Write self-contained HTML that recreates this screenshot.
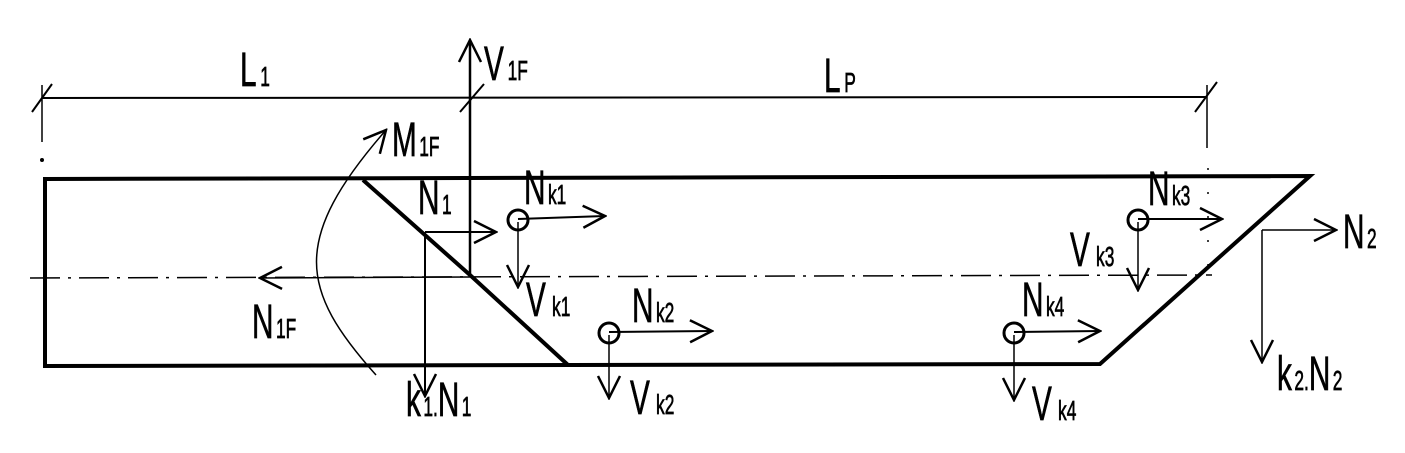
<!DOCTYPE html>
<html><head><style>html,body{margin:0;padding:0;background:#fff}svg{display:block}
text{font-family:"Liberation Sans",sans-serif;fill:#000;stroke:#000;stroke-width:0.7}
.b{font-size:48px}.s{font-size:28px}</style></head><body>
<svg width="1405" height="453" viewBox="0 0 1405 453" xmlns="http://www.w3.org/2000/svg">
<defs>
<marker id="a" viewBox="0 0 26 26" refX="24" refY="13" markerWidth="26" markerHeight="26" markerUnits="userSpaceOnUse" orient="auto"><path d="M2 2 L24 13 L2 24" fill="none" stroke="#000" stroke-width="2.5"/></marker>
</defs>
<g fill="none" stroke="#000">
<path d="M42 98 L1207 97" stroke-width="2"/>
<path d="M32 112 L52 84 M460 112 L484 84 M1195 112 L1217 82" stroke-width="2"/>
<path d="M42 85 L42 142 M1207 85 L1207 148" stroke-width="1.5"/>
<path d="M1208 168 L1208 275" stroke-width="1.5" stroke-dasharray="2 22"/>
<circle cx="42" cy="160" r="1.5" fill="#000"/>
<path d="M45 179 L1310 176 L1100 364 L45 366 Z" stroke-width="4"/>
<path d="M363 180 L470 275 L568 365" stroke-width="4"/>
<path d="M30 278 L1212 275" stroke-width="1.5" stroke-dasharray="30 8 3 8"/>
<path d="M470 275 L470 40" stroke-width="2.5" marker-end="url(#a)"/>
<path d="M470 277 L260 278" stroke-width="1.5" marker-end="url(#a)"/>
<path d="M376 375 C300 290 290 240 386 130" stroke-width="1.5" marker-end="url(#a)"/>
<path d="M425 232 L496 232" stroke-width="2" marker-end="url(#a)"/>
<path d="M425 232 L425 396" stroke-width="2" marker-end="url(#a)"/>
<circle cx="518" cy="220" r="10" stroke-width="3"/>
<path d="M518 219 L605 216" stroke-width="2" marker-end="url(#a)"/>
<path d="M518 222 L518 287" stroke-width="1.5" marker-end="url(#a)"/>
<circle cx="609" cy="333" r="10" stroke-width="3"/>
<path d="M609 332 L712 331" stroke-width="2" marker-end="url(#a)"/>
<path d="M609 335 L609 398" stroke-width="1.5" marker-end="url(#a)"/>
<circle cx="1014" cy="333" r="10" stroke-width="3"/>
<path d="M1014 332 L1100 331" stroke-width="2" marker-end="url(#a)"/>
<path d="M1014 335 L1014 400" stroke-width="1.5" marker-end="url(#a)"/>
<circle cx="1138" cy="220" r="10" stroke-width="3"/>
<path d="M1138 219 L1222 219" stroke-width="2" marker-end="url(#a)"/>
<path d="M1138 222 L1138 290" stroke-width="1.5" marker-end="url(#a)"/>
<path d="M1262 230 L1336 230" stroke-width="1.5" marker-end="url(#a)"/>
<path d="M1262 230 L1262 362" stroke-width="1.5" marker-end="url(#a)"/>
</g>
<g>
<text transform="translate(240,86) scale(0.62,1)"><tspan class="b">L</tspan><tspan class="s" dx="6">1</tspan></text>
<text transform="translate(484,80) scale(0.62,1)"><tspan class="b">V</tspan><tspan class="s" dx="6">1F</tspan></text>
<text transform="translate(824,92) scale(0.62,1)"><tspan class="b">L</tspan><tspan class="s" dx="6">P</tspan></text>
<text transform="translate(392,156) scale(0.62,1)"><tspan class="b">M</tspan><tspan class="s" dx="4">1F</tspan></text>
<text transform="translate(418,214) scale(0.62,1)"><tspan class="b">N</tspan><tspan class="s" dx="4">1</tspan></text>
<text transform="translate(524,204) scale(0.62,1)"><tspan class="b">N</tspan><tspan class="s" dx="4">k1</tspan></text>
<text transform="translate(526,316) scale(0.62,1)"><tspan class="b">V</tspan><tspan class="s" dx="10">k1</tspan></text>
<text transform="translate(252,338) scale(0.62,1)"><tspan class="b">N</tspan><tspan class="s" dx="4">1F</tspan></text>
<text transform="translate(632,322) scale(0.62,1)"><tspan class="b">N</tspan><tspan class="s" dx="4">k2</tspan></text>
<text transform="translate(630,414) scale(0.62,1)"><tspan class="b">V</tspan><tspan class="s" dx="10">k2</tspan></text>
<text transform="translate(406,416) scale(0.62,1)"><tspan class="b">k</tspan><tspan class="s" dx="4">1.</tspan><tspan class="b">N</tspan><tspan class="s" dx="4">1</tspan></text>
<text transform="translate(1022,316) scale(0.62,1)"><tspan class="b">N</tspan><tspan class="s" dx="4">k4</tspan></text>
<text transform="translate(1032,420) scale(0.62,1)"><tspan class="b">V</tspan><tspan class="s" dx="10">k4</tspan></text>
<text transform="translate(1148,205) scale(0.62,1)"><tspan class="b">N</tspan><tspan class="s" dx="4">k3</tspan></text>
<text transform="translate(1070,266) scale(0.62,1)"><tspan class="b">V</tspan><tspan class="s" dx="10">k3</tspan></text>
<text transform="translate(1343,248) scale(0.62,1)"><tspan class="b">N</tspan><tspan class="s" dx="4">2</tspan></text>
<text transform="translate(1277,390) scale(0.62,1)"><tspan class="b">k</tspan><tspan class="s" dx="4">2.</tspan><tspan class="b">N</tspan><tspan class="s" dx="4">2</tspan></text>
</g>
</svg>
</body></html>
